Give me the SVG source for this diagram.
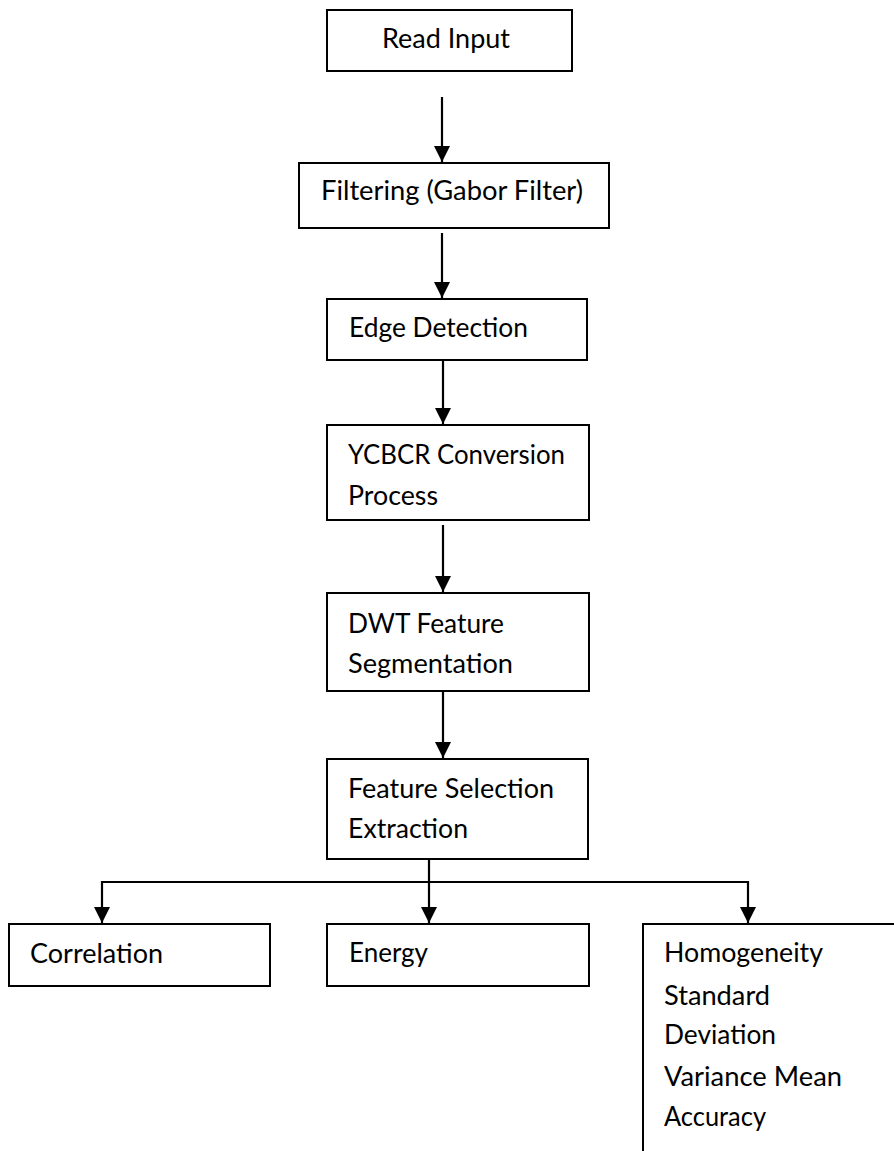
<svg xmlns="http://www.w3.org/2000/svg" width="894" height="1151" viewBox="0 0 894 1151">
<style>
.box{fill:#fff;stroke:#000;stroke-width:2}
.t{font-family:Lato,"Open Sans","Liberation Sans",sans-serif;font-size:26px;fill:#000}
.c{fill:none;stroke:#000;stroke-width:2.2}
</style>
<defs>
<marker id="ah" markerWidth="16" markerHeight="16" refX="16" refY="8" orient="auto" markerUnits="userSpaceOnUse">
<path d="M0,0 L16,8 L0,16 Z" fill="#000"/>
</marker>
</defs>
<rect width="894" height="1151" fill="#fff"/>
<g id="connectors">
<line class="c" x1="442" y1="97" x2="442" y2="162" marker-end="url(#ah)"/>
<line class="c" x1="442" y1="233" x2="442" y2="298" marker-end="url(#ah)"/>
<line class="c" x1="443" y1="360" x2="443" y2="424" marker-end="url(#ah)"/>
<line class="c" x1="443" y1="525" x2="443" y2="592" marker-end="url(#ah)"/>
<line class="c" x1="443" y1="691" x2="443" y2="758" marker-end="url(#ah)"/>
<line class="c" x1="429" y1="859" x2="429" y2="923" marker-end="url(#ah)"/>
<polyline class="c" points="748,882 102,882 102,923" marker-end="url(#ah)"/>
<line class="c" x1="748" y1="881" x2="748" y2="923" marker-end="url(#ah)"/>
</g>
<g id="read-input">
<rect class="box" x="327" y="10" width="245" height="61"/>
<text class="t" x="382" y="48" textLength="128" lengthAdjust="spacingAndGlyphs">Read Input</text>
</g>
<g id="filtering">
<rect class="box" x="299" y="163" width="310" height="65"/>
<text class="t" x="321" y="200" textLength="262" lengthAdjust="spacingAndGlyphs">Filtering (Gabor Filter)</text>
</g>
<g id="edge-detection">
<rect class="box" x="327" y="299" width="260" height="61"/>
<text class="t" x="349" y="337" textLength="179" lengthAdjust="spacingAndGlyphs">Edge Detection</text>
</g>
<g id="ycbcr">
<rect class="box" x="327" y="425" width="262" height="95"/>
<text class="t" x="348" y="464" textLength="217" lengthAdjust="spacingAndGlyphs">YCBCR Conversion</text>
<text class="t" x="348" y="505" textLength="90" lengthAdjust="spacingAndGlyphs">Process</text>
</g>
<g id="dwt">
<rect class="box" x="327" y="593" width="262" height="98"/>
<text class="t" x="348" y="633" textLength="156" lengthAdjust="spacingAndGlyphs">DWT Feature</text>
<text class="t" x="348" y="673" textLength="165" lengthAdjust="spacingAndGlyphs">Segmentation</text>
</g>
<g id="feature-selection">
<rect class="box" x="327" y="759" width="261" height="100"/>
<text class="t" x="348" y="798" textLength="206" lengthAdjust="spacingAndGlyphs">Feature Selection</text>
<text class="t" x="348" y="838" textLength="120" lengthAdjust="spacingAndGlyphs">Extraction</text>
</g>
<g id="correlation">
<rect class="box" x="9" y="924" width="261" height="62"/>
<text class="t" x="30" y="963" textLength="133" lengthAdjust="spacingAndGlyphs">Correlation</text>
</g>
<g id="energy">
<rect class="box" x="327" y="924" width="262" height="62"/>
<text class="t" x="349" y="962" textLength="79" lengthAdjust="spacingAndGlyphs">Energy</text>
</g>
<g id="homogeneity">
<polyline class="box" points="643,1152 643,924 896,924"/>
<text class="t" x="664" y="962" textLength="159" lengthAdjust="spacingAndGlyphs">Homogeneity</text>
<text class="t" x="664" y="1005" textLength="106" lengthAdjust="spacingAndGlyphs">Standard</text>
<text class="t" x="664" y="1044" textLength="112" lengthAdjust="spacingAndGlyphs">Deviation</text>
<text class="t" x="664" y="1086" textLength="178" lengthAdjust="spacingAndGlyphs">Variance Mean</text>
<text class="t" x="664" y="1126" textLength="102" lengthAdjust="spacingAndGlyphs">Accuracy</text>
</g>
</svg>
